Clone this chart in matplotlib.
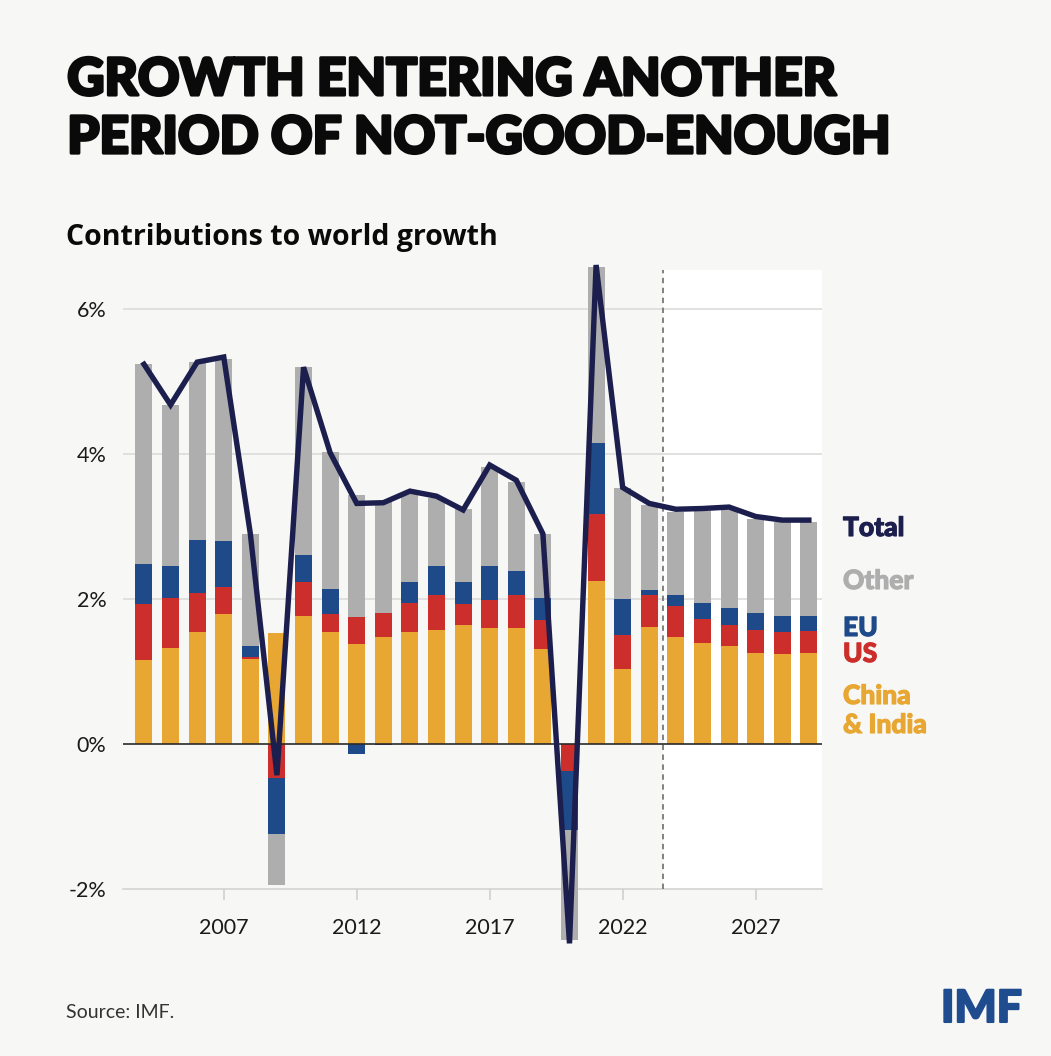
import numpy as np
import matplotlib
matplotlib.use("Agg")
import matplotlib.pyplot as plt
from matplotlib.patches import Rectangle
import matplotlib.patheffects as pe

plt.rcParams['font.family'] = ['Lato', 'DejaVu Sans']

# contributions to world growth, percentage points
years = list(range(2004, 2030))
china_india = [1.16, 1.33, 1.55, 1.79, 1.18, 1.53, 1.77, 1.54, 1.38, 1.48, 1.54, 1.57, 1.64,
               1.60, 1.60, 1.31, 0.00, 2.25, 1.04, 1.62, 1.48, 1.40, 1.35, 1.26, 1.24, 1.26]
us = [0.77, 0.68, 0.54, 0.38, 0.02, -0.47, 0.46, 0.25, 0.37, 0.33, 0.41, 0.49, 0.29,
      0.39, 0.46, 0.40, -0.37, 0.93, 0.46, 0.44, 0.42, 0.32, 0.29, 0.31, 0.31, 0.30]
eu = [0.55, 0.45, 0.73, 0.63, 0.15, -0.77, 0.38, 0.35, -0.14, -0.01, 0.28, 0.40, 0.30,
      0.47, 0.33, 0.30, -0.82, 0.97, 0.50, 0.06, 0.16, 0.22, 0.24, 0.24, 0.22, 0.21]
other = [2.76, 2.22, 2.45, 2.51, 1.55, -0.71, 2.59, 1.89, 1.68, 1.53, 1.22, 0.94, 1.01,
         1.36, 1.23, 0.89, -1.51, 2.43, 1.53, 1.18, 1.14, 1.28, 1.35, 1.30, 1.29, 1.30]
total = [5.24, 4.68, 5.27, 5.34, 2.90, -0.43, 5.20, 4.02, 3.32, 3.33, 3.49, 3.42, 3.23,
         3.85, 3.64, 2.90, -2.75, 6.61, 3.54, 3.32, 3.24, 3.25, 3.27, 3.14, 3.09, 3.09]

forecast_start = 2023.5
xticks = [2007, 2012, 2017, 2022, 2027]
yticks = [-2, 0, 2, 4, 6]
ylabels = ['-2%', '0%', '2%', '4%', '6%']

c_ci = '#e8a632'
c_us = '#cb2e2b'
c_eu = '#1f4a8a'
c_other = '#aeaeae'
c_total = '#1c1e4d'
bg = '#f7f7f5'

fig = plt.figure(figsize=(10.51, 10.56), dpi=100, facecolor=bg)
ax = fig.add_axes([0.117, 0.0998, 0.665, 0.652])
ax.set_facecolor('none')
ax.set_xlim(2003.21, 2029.49)
ax.set_ylim(-2.85, 6.65)

# forecast area
ax.add_patch(Rectangle((forecast_start, -2), 2029.49 - forecast_start, 8.54,
                       facecolor='white', edgecolor='none', zorder=0))
ax.plot([forecast_start, forecast_start], [-2, 6.54], color='#777777', lw=1.3,
        ls=(0, (3, 2.5)), zorder=1)

for g in [2, 4, 6]:
    ax.axhline(g, color='#d9d9d7', lw=1.1, zorder=0.5)

# stacked bars, positives upward and negatives downward
pos = np.zeros(len(years))
neg = np.zeros(len(years))
for vals, col in [(china_india, c_ci), (us, c_us), (eu, c_eu), (other, c_other)]:
    v = np.array(vals)
    bottom = np.where(v >= 0, pos, neg)
    ax.bar(years, v, bottom=bottom, width=0.64, color=col, linewidth=0, zorder=2)
    pos += np.clip(v, 0, None)
    neg += np.clip(v, None, 0)

ax.axhline(0, color='#2a2a2a', lw=1.2, zorder=3)
ax.plot(years, total, color=c_total, lw=3.9, solid_joinstyle='miter', zorder=5, clip_on=False)

for s in ['top', 'right', 'left']:
    ax.spines[s].set_visible(False)
ax.spines['bottom'].set_position(('data', -2))
ax.spines['bottom'].set_color('#d4d4d2')
ax.spines['bottom'].set_linewidth(1.2)
ax.spines['bottom'].set_zorder(0.5)

ax.set_xticks(xticks)
ax.set_xticklabels([str(x) for x in xticks])
ax.tick_params(axis='x', length=8, width=1.2, color='#d0d0ce', pad=13,
               labelsize=15.5, labelcolor='#1a1a1a')
ax.set_yticks(yticks)
ax.set_yticklabels(ylabels)
ax.tick_params(axis='y', length=0, pad=12, labelsize=15.5, labelcolor='#1a1a1a')

# titles
heavy = [pe.withStroke(linewidth=2.2, foreground='#0a0a0a')]
fig.text(0.064, 0.910, 'GROWTH ENTERING ANOTHER', fontsize=37, fontweight='black',
         color='#0a0a0a', path_effects=heavy)
fig.text(0.064, 0.855, 'PERIOD OF NOT-GOOD-ENOUGH', fontsize=37, fontweight='black',
         color='#0a0a0a', path_effects=heavy)
fig.text(0.063, 0.768, 'Contributions to world growth', fontsize=20.5, fontweight='bold',
         family=['Open Sans', 'DejaVu Sans'], color='#0a0a0a')

# series labels on the right
labels = [('Total', 536, c_total), ('Other', 589, c_other), ('EU', 636, c_eu),
          ('US', 662, c_us), ('China', 704, c_ci), ('& India', 733, c_ci)]
for txt, ypx, col in labels:
    fig.text(843 / 1051, 1 - ypx / 1056, txt, fontsize=19, fontweight='black', color=col,
             path_effects=[pe.withStroke(linewidth=0.8, foreground=col)])

fig.text(0.063, 1 - 1018 / 1056, 'Source: IMF.', fontsize=14, color='#333333')
fig.text(1022 / 1051, 1 - 1022 / 1056, 'IMF', fontsize=32, fontweight='black',
         color='#1f4b8f', ha='right',
         path_effects=[pe.withStroke(linewidth=1.5, foreground='#1f4b8f')])

fig.savefig('out.png', dpi=100, facecolor=bg)
